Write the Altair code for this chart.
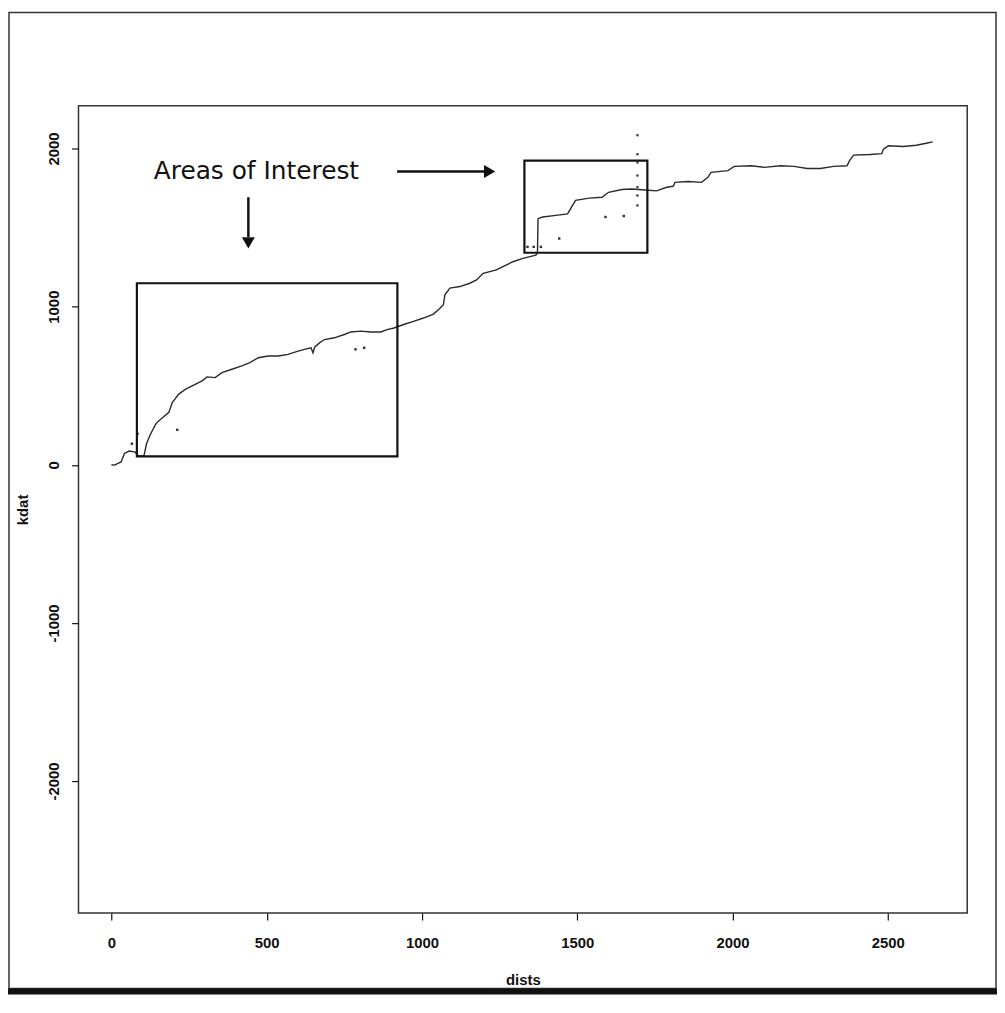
import altair as alt
import pandas as pd

# main trace
dists = [0, 10, 31, 42, 57, 77, 84, 92, 105, 113, 125, 143, 153, 185, 196, 217, 239, 260, 292, 308,
         334, 356, 388, 420, 446, 473, 505, 537, 569, 601, 622, 643, 649, 655, 670, 686, 718, 750,
         771, 803, 835, 867, 888, 910, 941, 973, 1005, 1037, 1059, 1069, 1074, 1090, 1122, 1154,
         1176, 1197, 1240, 1261, 1293, 1325, 1367, 1372, 1374, 1389, 1431, 1469, 1485, 1495, 1538,
         1580, 1601, 1644, 1676, 1719, 1756, 1788, 1809, 1815, 1857, 1900, 1921, 1931, 1985, 2006,
         2060, 2102, 2155, 2198, 2241, 2283, 2326, 2369, 2377, 2390, 2443, 2481, 2486, 2502, 2550,
         2592, 2624, 2645]
kdat = [0, -2, 18, 72, 87, 80, 60, 55, 58, 133, 190, 259, 279, 332, 394, 447, 478, 499, 531, 556,
        551, 583, 604, 625, 646, 677, 688, 688, 698, 719, 730, 740, 708, 745, 771, 792, 803, 824,
        840, 845, 840, 840, 855, 865, 887, 907, 928, 953, 991, 1012, 1075, 1117, 1127, 1148,
        1169, 1211, 1232, 1253, 1284, 1305, 1326, 1340, 1556, 1567, 1577, 1587, 1640, 1672, 1686,
        1692, 1723, 1741, 1744, 1738, 1732, 1755, 1761, 1786, 1791, 1786, 1818, 1849, 1860, 1887,
        1891, 1881, 1891, 1887, 1874, 1874, 1887, 1891, 1923, 1958, 1962, 1968, 1996, 2017, 2013,
        2021, 2033, 2042]

# stray points
out_d = [66, 84, 212, 786, 814, 1340, 1360, 1383, 1442, 1591, 1650]
out_k = [133, 196, 221, 730, 740, 1378, 1378, 1378, 1431, 1567, 1573]

# vertical dotted run
vert_d = [1694, 1694, 1694, 1694, 1694, 1694, 1694]
vert_k = [2084, 1964, 1912, 1829, 1755, 1703, 1640]

# annotation boxes
box_x1 = [82, 1330]
box_x2 = [921, 1726]
box_y1 = [53, 1341]
box_y2 = [1148, 1923]

label_text = ["Areas of Interest"]
label_x = [467]
label_y = [1855]

# arrows
down_x = [441]
down_y1 = [1692]
down_y2 = [1440]
down_head_y = [1403]
right_y = [1855]
right_x1 = [920]
right_x2 = [1205]
right_head_x = [1218]

x_ticks = [0, 500, 1000, 1500, 2000, 2500]
y_ticks = [-2000, -1000, 0, 1000, 2000]

XDOM = [-106, 2756]
YDOM = [-2835, 2270]

FONT = "Liberation Sans"

xs = alt.Scale(domain=XDOM, nice=False, zero=False)
ys = alt.Scale(domain=YDOM, nice=False, zero=False)

df = pd.DataFrame({"dists": dists, "kdat": kdat, "idx": list(range(len(dists)))})
df_out = pd.DataFrame({"dists": out_d, "kdat": out_k})
df_vert = pd.DataFrame({"dists": vert_d, "kdat": vert_k})
df_box = pd.DataFrame({"x1": box_x1, "x2": box_x2, "y1": box_y1, "y2": box_y2})
df_lab = pd.DataFrame({"t": label_text, "x": label_x, "y": label_y})
df_down = pd.DataFrame({"x": down_x, "y1": down_y1, "y2": down_y2, "hy": down_head_y})
df_right = pd.DataFrame({"y": right_y, "x1": right_x1, "x2": right_x2, "hx": right_head_x})
df_one = pd.DataFrame({"a": [0]})

x_axis = alt.Axis(values=x_ticks, title="dists", labelPadding=16, titlePadding=22,
                  labelExpr="'' + datum.value")
y_axis = alt.Axis(values=y_ticks, title="kdat", labelAngle=270, labelAlign="center",
                  labelBaseline="bottom", labelPadding=10, titlePadding=16,
                  labelExpr="'' + datum.value")

line = alt.Chart(df).mark_line(color="#2a2a2a", strokeWidth=1.4).encode(
    x=alt.X("dists:Q", scale=xs, axis=x_axis),
    y=alt.Y("kdat:Q", scale=ys, axis=y_axis),
    order="idx:Q",
)

pts = alt.Chart(df_out).mark_square(size=6, color="#333333", opacity=1).encode(
    x=alt.X("dists:Q", scale=xs), y=alt.Y("kdat:Q", scale=ys))

vpts = alt.Chart(df_vert).mark_square(size=5, color="#333333", opacity=1).encode(
    x=alt.X("dists:Q", scale=xs), y=alt.Y("kdat:Q", scale=ys))

boxes = alt.Chart(df_box).mark_rect(fill=None, fillOpacity=0, stroke="#111111",
                                    strokeWidth=2.2).encode(
    x=alt.X("x1:Q", scale=xs), x2="x2:Q",
    y=alt.Y("y1:Q", scale=ys), y2="y2:Q")

label = alt.Chart(df_lab).mark_text(font="DejaVu Sans", fontSize=25, color="#111111",
                                    align="center", baseline="middle").encode(
    x=alt.X("x:Q", scale=xs), y=alt.Y("y:Q", scale=ys), text="t:N")

down_shaft = alt.Chart(df_down).mark_rule(color="#111111", strokeWidth=2.5).encode(
    x=alt.X("x:Q", scale=xs), y=alt.Y("y1:Q", scale=ys), y2="y2:Q")
down_head = alt.Chart(df_down).mark_point(shape="triangle-down", filled=True, size=170,
                                          color="#111111", opacity=1).encode(
    x=alt.X("x:Q", scale=xs), y=alt.Y("hy:Q", scale=ys))

right_shaft = alt.Chart(df_right).mark_rule(color="#111111", strokeWidth=2.5).encode(
    x=alt.X("x1:Q", scale=xs), x2="x2:Q", y=alt.Y("y:Q", scale=ys))
right_head = alt.Chart(df_right).mark_point(shape="triangle-right", filled=True, size=170,
                                            color="#111111", opacity=1).encode(
    x=alt.X("hx:Q", scale=xs), y=alt.Y("y:Q", scale=ys))

outer = alt.Chart(df_one).mark_rect(fill=None, fillOpacity=0, stroke="#333333",
                                    strokeWidth=1.5).encode(
    x=alt.value(-70), x2=alt.value(924), y=alt.value(-94), y2=alt.value(889))
bar = alt.Chart(df_one).mark_rect(fill="#111111").encode(
    x=alt.value(-71), x2=alt.value(926), y=alt.value(889), y2=alt.value(895))

chart = alt.layer(
    outer, bar, line, pts, vpts, boxes, label, down_shaft, down_head, right_shaft, right_head
).properties(
    width=895, height=813,
    padding={"left": 71, "top": 95, "right": 30, "bottom": 82},
    autosize=alt.AutoSizeParams(type="none"),
    background="white",
).configure_view(
    stroke="#333333", strokeWidth=1.5
).configure_axis(
    domain=False, grid=False, tickColor="#111111", tickSize=7, tickWidth=1.2,
    labelFont=FONT, labelFontSize=15, labelFontWeight="bold", labelColor="#111111",
    titleFont=FONT, titleFontSize=15, titleFontWeight="bold", titleColor="#111111",
)

chart.save("out.html", embed_options={"renderer": "svg", "actions": False})
